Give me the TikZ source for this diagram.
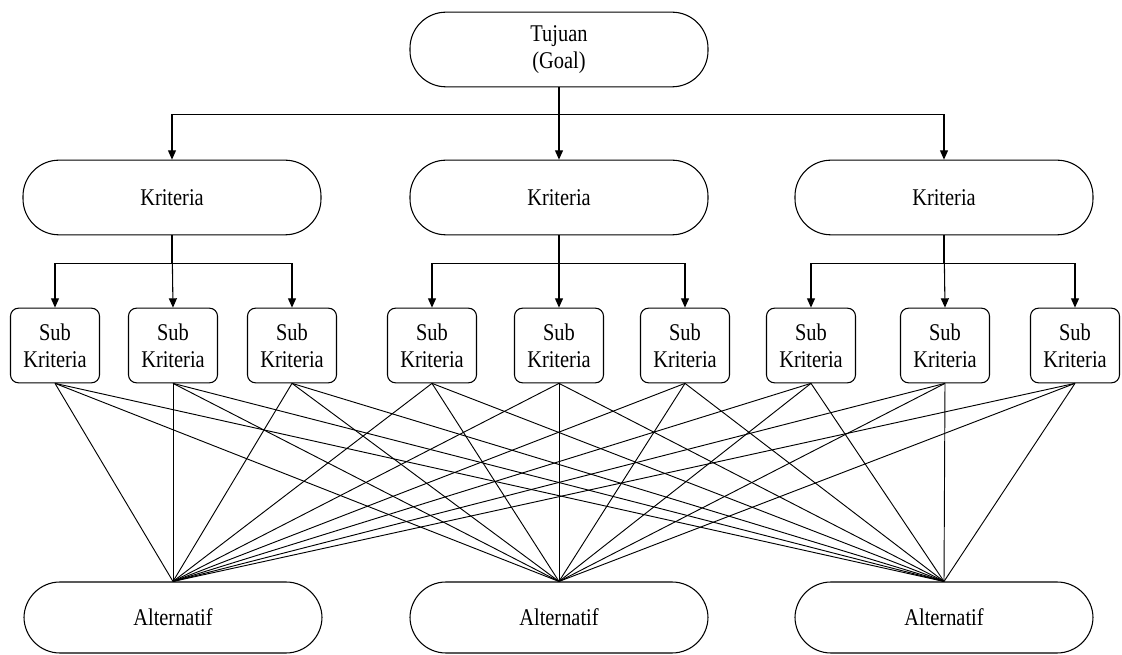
\documentclass[tikz,border=0pt]{standalone}
\usepackage{fontspec}
\setmainfont{Liberation Serif}[FakeStretch=0.85]
\usetikzlibrary{arrows.meta}
\begin{document}
\begin{tikzpicture}[x=0.75pt,y=-0.75pt,
  every node/.style={font=\fontsize{18pt}{20.5pt}\selectfont, align=center, inner sep=0pt},
  bigbox/.style={draw, line width=0.8pt, rounded corners=27pt,
    minimum width=223.5pt, minimum height=56pt},
  altbox/.style={bigbox, minimum height=53.25pt},
  subbox/.style={draw, line width=0.8pt, rounded corners=6pt,
    minimum width=66.75pt, minimum height=56pt},
  link/.style={line width=0.8pt, -{Triangle[length=7pt,width=6pt]}},
  web/.style={line width=0.7pt}]
\useasboundingbox (0,0) rectangle (1122,655);

% goal
\node[bigbox] (goal) at (559,49.5) {Tujuan\\(Goal)};

% criteria
\node[bigbox] (k1) at (172,197.5) {Kriteria};
\node[bigbox] (k2) at (559,197.5) {Kriteria};
\node[bigbox] (k3) at (944,197.5) {Kriteria};

% sub-criteria
\foreach \n/\x in {s1/55, s2/173, s3/292, s4/432, s5/559, s6/685, s7/811, s8/945, s9/1075}
  \node[subbox] (\n) at (\x,345.5) {Sub\\Kriteria};

% alternatives
\node[altbox] (a1) at (173,617.5) {Alternatif};
\node[altbox] (a2) at (559,617.5) {Alternatif};
\node[altbox] (a3) at (944,617.5) {Alternatif};

% goal to criteria
\draw[link] (goal.south) -- (k2.north);
\draw[link] (goal.south) -- ++(0,27) -| (k1.north);
\draw[link] (goal.south) -- ++(0,27) -| (k3.north);

% criteria to sub-criteria
\foreach \k/\a/\b/\c in {k1/s1/s2/s3, k2/s4/s5/s6, k3/s7/s8/s9} {
  \draw[link] (\k.south) -- (\b.north);
  \draw[link] (\k.south) -- ++(0,28) -| (\a.north);
  \draw[link] (\k.south) -- ++(0,28) -| (\c.north);
}

% every sub-criterion to every alternative
\foreach \s in {s1,s2,s3,s4,s5,s6,s7,s8,s9}
  \foreach \a in {a1,a2,a3}
    \draw[web] (\s.south) -- (\a.north);
\end{tikzpicture}
\end{document}
